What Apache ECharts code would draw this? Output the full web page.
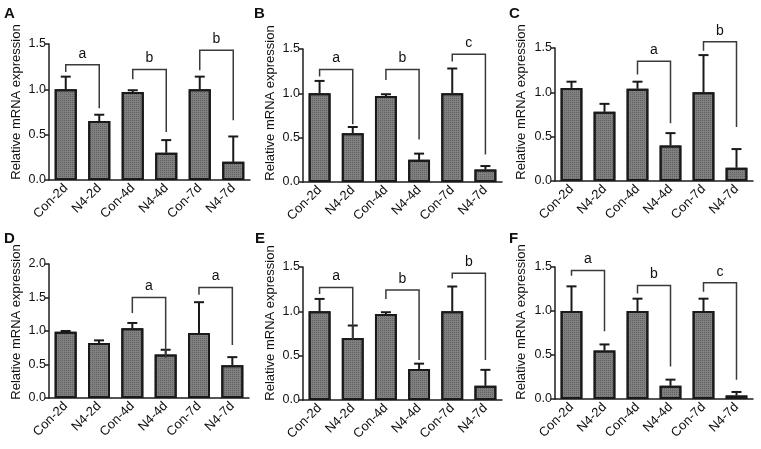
<!DOCTYPE html>
<html><head><meta charset="utf-8">
<script src="https://cdn.jsdelivr.net/npm/echarts@6/dist/echarts.min.js"></script>
<style>html,body{margin:0;padding:0;background:#fff}#c{width:761px;height:449px}</style>
</head><body><div id="c"></div>
<script>
const categories = ['Con-2d','N4-2d','Con-4d','N4-4d','Con-7d','N4-7d'];
const panelLetters = ['A','B','C','D','E','F'];
const yAxisTitle = 'Relative mRNA expression';
const yMaxes = [1.5, 1.5, 1.5, 2.0, 1.5, 1.5];
const yInterval = 0.5;

const meanA = [1.0, 0.65, 0.97, 0.30, 1.0, 0.20];
const semA  = [0.14, 0.07, 0.02, 0.14, 0.14, 0.28];
const meanB = [1.0, 0.55, 0.97, 0.25, 1.0, 0.14];
const semB  = [0.14, 0.07, 0.02, 0.07, 0.28, 0.04];
const meanC = [1.05, 0.78, 1.04, 0.40, 1.0, 0.15];
const semC  = [0.07, 0.09, 0.08, 0.14, 0.42, 0.21];
const meanD = [0.99, 0.82, 1.04, 0.65, 0.97, 0.49];
const semD  = [0.01, 0.04, 0.08, 0.07, 0.46, 0.12];
const meanE = [1.0, 0.70, 0.97, 0.35, 1.0, 0.16];
const semE  = [0.14, 0.14, 0.02, 0.06, 0.28, 0.18];
const meanF = [1.0, 0.55, 1.0, 0.15, 1.0, 0.04];
const semF  = [0.28, 0.07, 0.14, 0.07, 0.14, 0.04];

// [leftCat, rightCat, topValue, leftLegBottom, rightLegBottom, label]
const bracketsA = [[0,1,1.27,1.19,0.79,'a'],[2,3,1.22,1.11,0.53,'b'],[4,5,1.43,1.21,0.66,'b']];
const bracketsB = [[0,1,1.27,1.19,0.65,'a'],[2,3,1.27,1.15,0.48,'b'],[4,5,1.44,1.36,0.31,'c']];
const bracketsC = [[2,3,1.35,1.20,0.65,'a'],[4,5,1.57,1.47,0.61,'b']];
const bracketsD = [[2,3,1.50,1.27,0.60,'a'],[4,5,1.65,1.54,0.79,'a']];
const bracketsE = [[0,1,1.27,1.195,0.68,'a'],[2,3,1.24,1.14,0.45,'b'],[4,5,1.43,1.37,0.45,'b']];
const bracketsF = [[0,1,1.46,1.40,0.77,'a'],[2,3,1.29,1.20,0.37,'b'],[4,5,1.32,1.22,0.22,'c']];

const means = [meanA, meanB, meanC, meanD, meanE, meanF];
const sems = [semA, semB, semC, semD, semE, semF];
const brackets = [bracketsA, bracketsB, bracketsC, bracketsD, bracketsE, bracketsF];

const grids = [
  {left: 49, top: 44, width: 201, height: 136},
  {left: 303, top: 49, width: 199, height: 133},
  {left: 555, top: 48, width: 198, height: 133},
  {left: 49, top: 264, width: 200, height: 134},
  {left: 303, top: 267, width: 199, height: 133},
  {left: 555, top: 267, width: 198, height: 132}
];
const letterPos = [[4,6],[254,6],[509,6],[4,231],[255,231],[509,231]];
const yTitlePos = [[16,102],[270,103],[521,102],[16,322],[270,323],[521,322]];

const FONT = '"Liberation Sans", Arial, sans-serif';
const AX = '#1e1e1e';

const option = {
  animation: false,
  backgroundColor: '#fff',
  title: panelLetters.map((t, i) => ({
    text: t, left: letterPos[i][0], top: letterPos[i][1], padding: 0,
    textStyle: {fontFamily: FONT, fontSize: 15, fontWeight: 'bold', color: '#111'}
  })),
  graphic: yTitlePos.map(p => ({
    type: 'text', x: p[0], y: p[1], rotation: Math.PI / 2,
    style: {text: yAxisTitle, textAlign: 'center', textVerticalAlign: 'middle',
      fontSize: 13, fontFamily: FONT, fill: '#111'}
  })),
  grid: grids,
  xAxis: grids.map((g, i) => ({
    type: 'category', gridIndex: i, data: categories,
    axisLine: {lineStyle: {color: AX, width: 1.5}},
    axisTick: {show: false},
    axisLabel: {rotate: 45, interval: 0, margin: 6, fontSize: 13, color: '#111', fontFamily: FONT}
  })),
  yAxis: grids.map((g, i) => ({
    type: 'value', gridIndex: i, min: 0, max: yMaxes[i], interval: yInterval,
    axisLine: {show: true, lineStyle: {color: AX, width: 1.5}},
    axisTick: {show: true, length: 4, lineStyle: {color: AX, width: 1.5}},
    splitLine: {show: false},
    axisLabel: {fontSize: 12.5, color: '#111', margin: 3, fontFamily: FONT,
      formatter: v => v.toFixed(1)}
  })),
  series: []
};

for (let i = 0; i < 6; i++) {
  option.series.push({
    type: 'bar', xAxisIndex: i, yAxisIndex: i, data: means[i], barWidth: '66%',
    itemStyle: {color: '#808080', borderColor: '#1a1a1a', borderWidth: 2,
      decal: {symbol: 'rect', symbolSize: 1, dashArrayX: [1, 1], dashArrayY: [1, 1], color: 'rgba(40,40,40,0.35)'}},
    z: 3
  });
  option.series.push({
    type: 'custom', xAxisIndex: i, yAxisIndex: i,
    data: means[i].map((m, k) => [k, m, sems[i][k]]),
    z: 2,
    renderItem: function (params, api) {
      const x = api.value(0), m = api.value(1), e = api.value(2);
      const p0 = api.coord([x, m]);
      const p1 = api.coord([x, m + e]);
      const st = {stroke: '#1a1a1a', lineWidth: 2};
      return {type: 'group', children: [
        {type: 'line', shape: {x1: p0[0], y1: p0[1], x2: p1[0], y2: p1[1]}, style: st},
        {type: 'line', shape: {x1: p1[0] - 5, y1: p1[1], x2: p1[0] + 5, y2: p1[1]}, style: st}
      ]};
    }
  });
  const br = brackets[i];
  option.series.push({
    type: 'custom', xAxisIndex: i, yAxisIndex: i,
    data: br.map(b => [b[0], b[1], b[2], b[3], b[4]]),
    z: 4,
    renderItem: function (params, api) {
      const b = br[params.dataIndex];
      const pl = api.coord([b[0], b[3]]);
      const tl = api.coord([b[0], b[2]]);
      const tr = api.coord([b[1], b[2]]);
      const pr = api.coord([b[1], b[4]]);
      return {type: 'group', children: [
        {type: 'polyline', shape: {points: [pl, tl, tr, pr]},
          style: {stroke: '#3a3a3a', lineWidth: 1.5, fill: null}},
        {type: 'text', style: {text: b[5], x: (tl[0] + tr[0]) / 2, y: tl[1] - 4,
          textAlign: 'center', textVerticalAlign: 'bottom', fontSize: 14,
          fontFamily: FONT, fill: '#111'}}
      ]};
    }
  });
}

const chart = echarts.init(document.getElementById('c'), null, {renderer: 'canvas'});
chart.setOption(option);
</script></body></html>
